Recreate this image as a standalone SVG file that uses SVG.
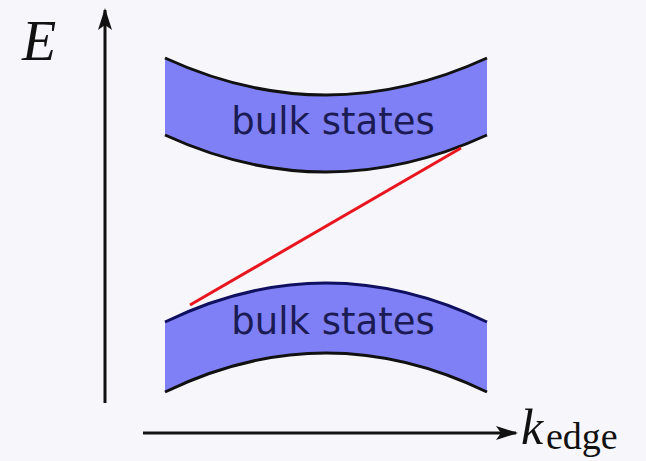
<svg xmlns="http://www.w3.org/2000/svg" width="646" height="461" viewBox="0 0 646 461">
  <style>
    .band { fill: #8080f6; stroke: none; }
    .edge { fill: none; stroke: #111; stroke-width: 3; }
    .edge-top { fill: none; stroke: #101060; stroke-width: 3; }
    .label { font-family: "DejaVu Sans", sans-serif; font-size: 37px; fill: #1c1c55; text-anchor: middle; }
    .axis { stroke: #111; stroke-width: 3; fill: none; }
    .math { font-family: "Liberation Serif", serif; font-style: italic; fill: #111; }
  </style>
  <defs>
    <marker id="arrow" viewBox="0 0 22 14" refX="20" refY="7" markerWidth="22" markerHeight="14" markerUnits="userSpaceOnUse" orient="auto">
      <path d="M0,0 L22,7 L0,14 L5,7 Z" fill="#111"/>
    </marker>
  </defs>
  <rect width="646" height="461" fill="#f7f6fb"/>

  <!-- conduction-side bulk band -->
  <g id="bulk-upper">
    <path class="band" d="M165,58 Q326,132 487,58 L487,135 Q326,209 165,135 Z"/>
    <path class="edge" d="M165,58 Q326,132 487,58"/>
    <path class="edge" d="M165,135 Q326,209 487,135"/>
    <text class="label" x="333" y="134">bulk states</text>
  </g>

  <!-- valence-side bulk band -->
  <g id="bulk-lower">
    <path class="band" d="M165,322 Q326,244 487,322 L487,392 Q326,314 165,392 Z"/>
    <path class="edge-top" d="M165,322 Q326,244 487,322"/>
    <path class="edge" d="M165,392 Q326,314 487,392"/>
    <text class="label" x="333" y="334">bulk states</text>
  </g>

  <g id="connectors">
    <!-- edge state crossing the gap -->
    <line x1="190" y1="305" x2="461" y2="148" stroke="#e8141e" stroke-width="3"/>
    <!-- energy axis -->
    <line class="axis" x1="105" y1="403" x2="105" y2="10" marker-end="url(#arrow)"/>
    <!-- momentum axis -->
    <line class="axis" x1="143" y1="433" x2="516" y2="433" marker-end="url(#arrow)"/>
  </g>

  <g id="axis-labels">
    <text class="math" x="22" y="60" font-size="56">E</text>
    <text class="math" x="521" y="444" font-size="50">k</text>
    <text x="546" y="449" font-family="Liberation Serif, serif" font-size="38" fill="#111">edge</text>
  </g>
</svg>
